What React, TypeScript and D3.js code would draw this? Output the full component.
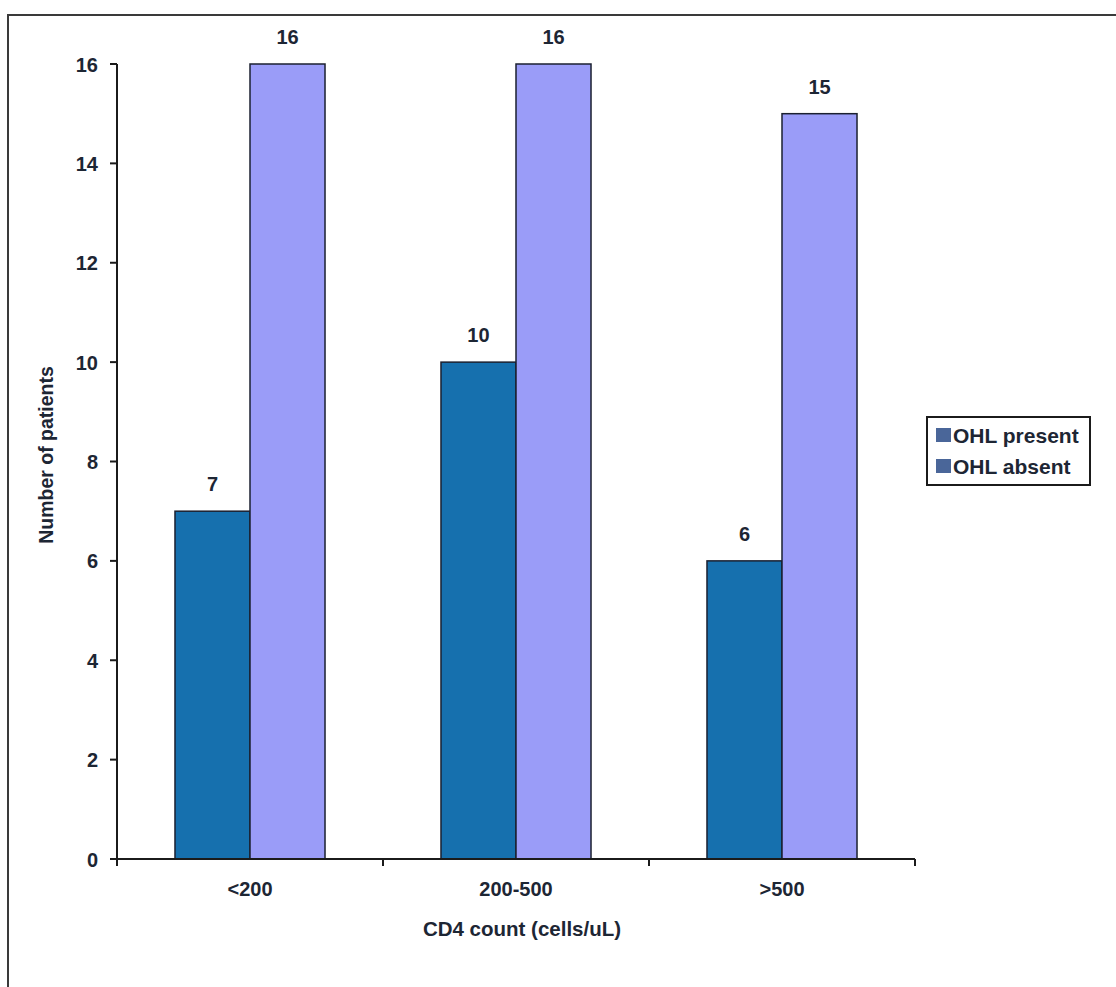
import React from "react";
import * as d3 from "d3";

const categories = ["<200", "200-500", ">500"];
const seriesNames = ["OHL present", "OHL absent"];
const ohlPresent = [7, 10, 6];
const ohlAbsent = [16, 16, 15];
const yTicks = [0, 2, 4, 6, 8, 10, 12, 14, 16];

const barColors = ["#1670ae", "#9a9cf8"];
const legendColors = ["#4a6699", "#4a6699"];
const textColor = "#1d2634";
const font = "Arial, 'Liberation Sans', sans-serif";

export default function App() {
  const width = 1116;
  const height = 987;
  const x0 = 117;
  const x1 = 915;
  const yBase = 859;
  const yTop = 64;

  const y = d3.scaleLinear().domain([0, 16]).range([yBase, yTop]);
  const x = d3.scaleBand<string>().domain(categories).range([x0, x1]).paddingInner(0.436).paddingOuter(0.218);
  const xs = d3.scaleBand<string>().domain(seriesNames).range([0, x.bandwidth()]).padding(0);
  const values = [ohlPresent, ohlAbsent];
  const step = x.step();
  const boundaries = d3.range(categories.length + 1).map((i) => x0 + i * step);

  return (
    <svg width={width} height={height} style={{ position: "absolute", left: 0, top: 0, background: "#fff" }}>
      {/* outer frame */}
      <path d={`M8,${height} L8,15 L${width},15`} fill="none" stroke="#3a3a3a" strokeWidth={2} />

      {/* bars */}
      {categories.map((c, ci) =>
        seriesNames.map((s, si) => {
          const v = values[si][ci];
          const bx = (x(c) ?? 0) + (xs(s) ?? 0);
          const bw = xs.bandwidth();
          return (
            <g key={c + s}>
              <rect x={bx} y={y(v)} width={bw} height={yBase - y(v)} fill={barColors[si]} stroke="#1b2030" strokeWidth={1.5} />
              <text x={bx + bw / 2} y={y(v) - 20} textAnchor="middle" fontFamily={font} fontWeight="bold" fontSize={20} fill={textColor}>
                {v}
              </text>
            </g>
          );
        })
      )}

      {/* y axis */}
      <line x1={x0} x2={x0} y1={yTop} y2={yBase + 5} stroke="#1b1b1b" strokeWidth={2} />
      {yTicks.map((t) => (
        <g key={t}>
          <line x1={x0 - 7} x2={x0} y1={y(t)} y2={y(t)} stroke="#1b1b1b" strokeWidth={2} />
          <text x={98} y={y(t) + 7.5} textAnchor="end" fontFamily={font} fontWeight="bold" fontSize={20} fill={textColor}>
            {t}
          </text>
        </g>
      ))}

      {/* x axis */}
      <line x1={x0 - 7} x2={x1} y1={yBase} y2={yBase} stroke="#1b1b1b" strokeWidth={2} />
      {boundaries.map((bx, i) => (
        <line key={i} x1={bx} x2={bx} y1={yBase} y2={yBase + 7} stroke="#1b1b1b" strokeWidth={2} />
      ))}
      {categories.map((c) => (
        <text key={c} x={(x(c) ?? 0) + x.bandwidth() / 2} y={896} textAnchor="middle" fontFamily={font} fontWeight="bold" fontSize={20} fill={textColor}>
          {c}
        </text>
      ))}

      {/* axis titles */}
      <text x={(x0 + x1) / 2 + 6} y={936} textAnchor="middle" fontFamily={font} fontWeight="bold" fontSize={20.5} fill={textColor}>
        CD4 count (cells/uL)
      </text>
      <text transform={`translate(53,455) rotate(-90)`} textAnchor="middle" fontFamily={font} fontWeight="bold" fontSize={19.5} fill={textColor}>
        Number of patients
      </text>

      {/* legend */}
      <rect x={927} y={417} width={163} height={68} fill="#fff" stroke="#1b1b1b" strokeWidth={2} />
      {seriesNames.map((s, i) => (
        <g key={s}>
          <rect x={936} y={428 + i * 31} width={15} height={14} fill={legendColors[i]} />
          <text x={953} y={443 + i * 31} fontFamily={font} fontWeight="bold" fontSize={21} fill={textColor}>
            {s}
          </text>
        </g>
      ))}
    </svg>
  );
}
